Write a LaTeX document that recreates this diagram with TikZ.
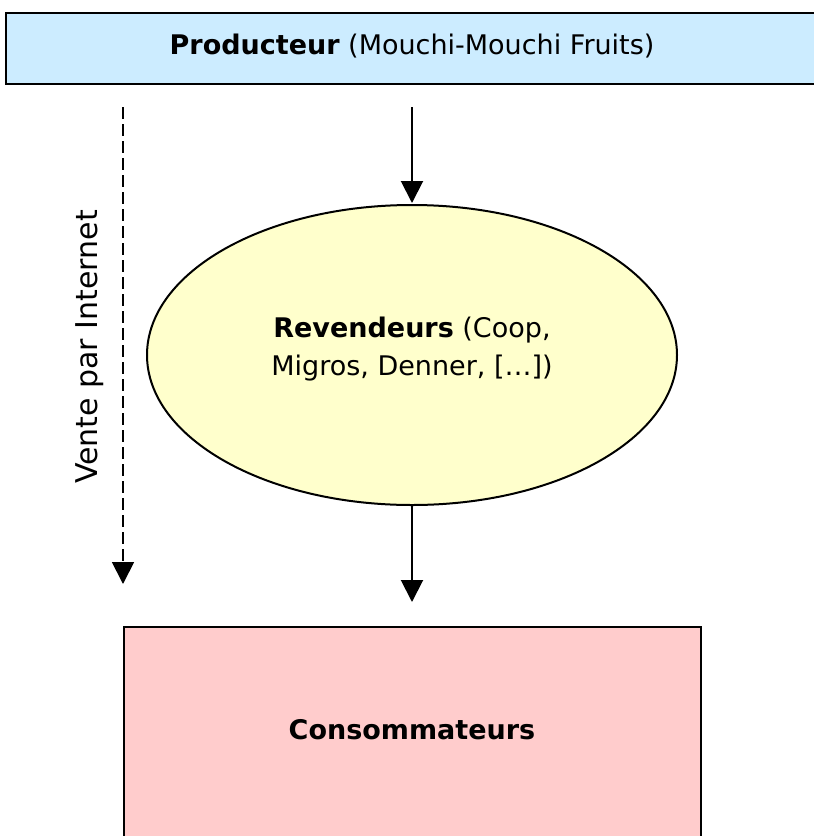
\documentclass[tikz,border=0pt]{standalone}
\usepackage{fontspec}
\setmainfont{DejaVu Sans}
\usetikzlibrary{shapes.geometric,arrows.meta}
\definecolor{prodblue}{HTML}{CCECFF}
\definecolor{revyellow}{HTML}{FFFFCC}
\definecolor{conspink}{HTML}{FFCCCC}
\tikzset{
  box/.style={draw=black, line width=2pt, inner sep=0pt},
  flow/.style={line width=2pt, -{Triangle[length=22pt,width=22pt]}},
  lbl/.style={font=\fontsize{27}{38}\selectfont, align=center},
}
\begin{document}
\begin{tikzpicture}[x=1pt,y=-1pt]
\useasboundingbox (0,0) rectangle (814,836);
\begin{scope}
\clip (0,0) rectangle (814,836);
\node[box, fill=prodblue, minimum width=830pt, minimum height=71pt, anchor=north west] (prod) at (5,12) {};
\node[box, fill=conspink, minimum width=577pt, minimum height=240pt, anchor=north west] (cons) at (123,626) {};
\end{scope}
\node[lbl] (prodtxt) at (412,46) {\textbf{Producteur} (Mouchi-Mouchi Fruits)};
\node[lbl] (constxt) at (412,730) {\textbf{Consommateurs}};
\node[ellipse, draw=black, line width=2pt, fill=revyellow, minimum width=530pt, minimum height=300pt, inner sep=0pt] (rev) at (412,355) {};
\node[lbl] (revtxt) at (412,349) {\textbf{Revendeurs} (Coop,\\Migros, Denner, […])};
\coordinate (a1s) at (412,107);
\coordinate (a1e) at (412,203);
\coordinate (a2s) at (412,505);
\coordinate (a2e) at (412,602);
\coordinate (ds) at (123,107);
\coordinate (de) at (123,584);
\draw[flow] (a1s) -- (a1e);
\draw[flow] (a2s) -- (a2e);
\draw[flow, line width=1.8pt, dash pattern=on 12pt off 5pt] (ds) -- (de);
\node[lbl, font=\fontsize{30}{38}\selectfont, rotate=90] (vente) at (90,347) {Vente par Internet};
\end{tikzpicture}
\end{document}
